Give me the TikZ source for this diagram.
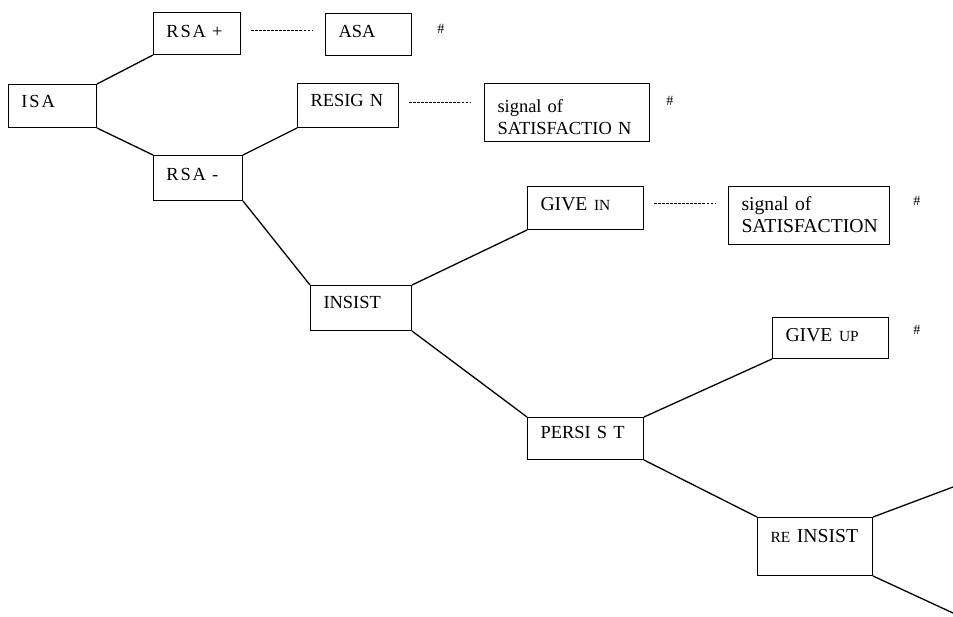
\documentclass[tikz,border=0pt]{standalone}
\usepackage{fontspec}
\setmainfont{Liberation Serif}
\newfontfamily\spaced[LetterSpace=10]{Liberation Serif}
\newcommand{\smallcap}[1]{{\fontsize{8.8}{10}\selectfont #1}}

\begin{document}
\begin{tikzpicture}[x=0.02cm,y=-0.02cm,line width=0.2mm,
    box/.style={draw,anchor=north west,inner xsep=0.26cm,inner ysep=0pt,align=left,
      text height=0.48cm,text depth=0.38cm,font=\fontsize{10.5}{12.5}\selectfont},
    bigger/.style={font=\fontsize{11.2}{12.5}\selectfont},
    endmark/.style={font=\footnotesize,inner sep=0pt},
    dashline/.style={line width=0.12mm,dash pattern=on 1.5pt off 0.8pt,
      shorten <=0.2cm,shorten >=0.26cm}]
  \useasboundingbox (0,0) rectangle (953,616);

  \node[box,text width=1.24cm,text height=0.46cm,text depth=0.40cm] (isa)      at (8,84)    {\spaced ISA};
  \node[box,text width=1.22cm,text height=0.50cm,text depth=0.34cm] (rsap)     at (153,12)  {\spaced RSA +};
  \node[box,text width=1.20cm,text depth=0.36cm]                     (asa)      at (325,13)  {ASA};
  \node[box,text width=1.26cm,text height=0.50cm,text depth=0.40cm] (rsam)     at (153,155) {\spaced RSA -};
  \node[box,text width=1.50cm,text height=0.46cm,text depth=0.42cm] (resign)   at (297,83)  {RESIG N};
  \node[box,text width=2.78cm,text height=0.58cm,text depth=0.58cm] (sigone)   at (484,83)  {signal of\\SATISFACTIO N};
  \node[box,text width=1.50cm,text height=0.46cm,text depth=0.44cm] (insist)   at (310,285) {INSIST};
  \node[box,bigger,text width=1.80cm]                                (givein)   at (527,186) {GIVE \smallcap{IN}};
  \node[box,bigger,text width=2.70cm,text depth=0.68cm]              (sigtwo)   at (728,186) {signal of\\SATISFACTION};
  \node[box,bigger,text width=1.80cm,text depth=0.34cm]              (giveup)   at (772,317) {GIVE \smallcap{UP}};
  \node[box,text width=1.80cm,text height=0.42cm,text depth=0.42cm] (persist)  at (527,417) {PERSI S T};
  \node[box,bigger,text width=1.78cm,text height=0.50cm,text depth=0.66cm] (reinsist) at (757,517) {\smallcap{RE} INSIST};

  \node[endmark] (hone)   at (441,29)  {\#};
  \node[endmark] (htwo)   at (670,101) {\#};
  \node[endmark] (hthree) at (917,201) {\#};
  \node[endmark] (hfour)  at (917,330) {\#};

  \coordinate (cutup)   at (953,487);
  \coordinate (cutdown) at (953,613);

  \path[line width=0.26mm]
        (isa.north east)      edge (rsap.south west)
        (isa.south east)      edge (rsam.north west)
        (rsam.north east)     edge (resign.south west)
        (rsam.south east)     edge (insist.north west)
        (insist.north east)   edge (givein.south west)
        (insist.south east)   edge (persist.north west)
        (persist.north east)  edge (giveup.south west)
        (persist.south east)  edge (reinsist.north west)
        (reinsist.north east) edge (cutup)
        (reinsist.south east) edge (cutdown);

  \coordinate (done)   at ([yshift=0.06cm]rsap.east);
  \coordinate (dtwo)   at ([yshift=0.06cm]resign.east);
  \coordinate (dthree) at ([yshift=0.09cm]givein.east);
  \path[dashline] (done)   edge (done -| asa.west)
                  (dtwo)   edge (dtwo -| sigone.west)
                  (dthree) edge (dthree -| sigtwo.west);
\end{tikzpicture}
\end{document}
